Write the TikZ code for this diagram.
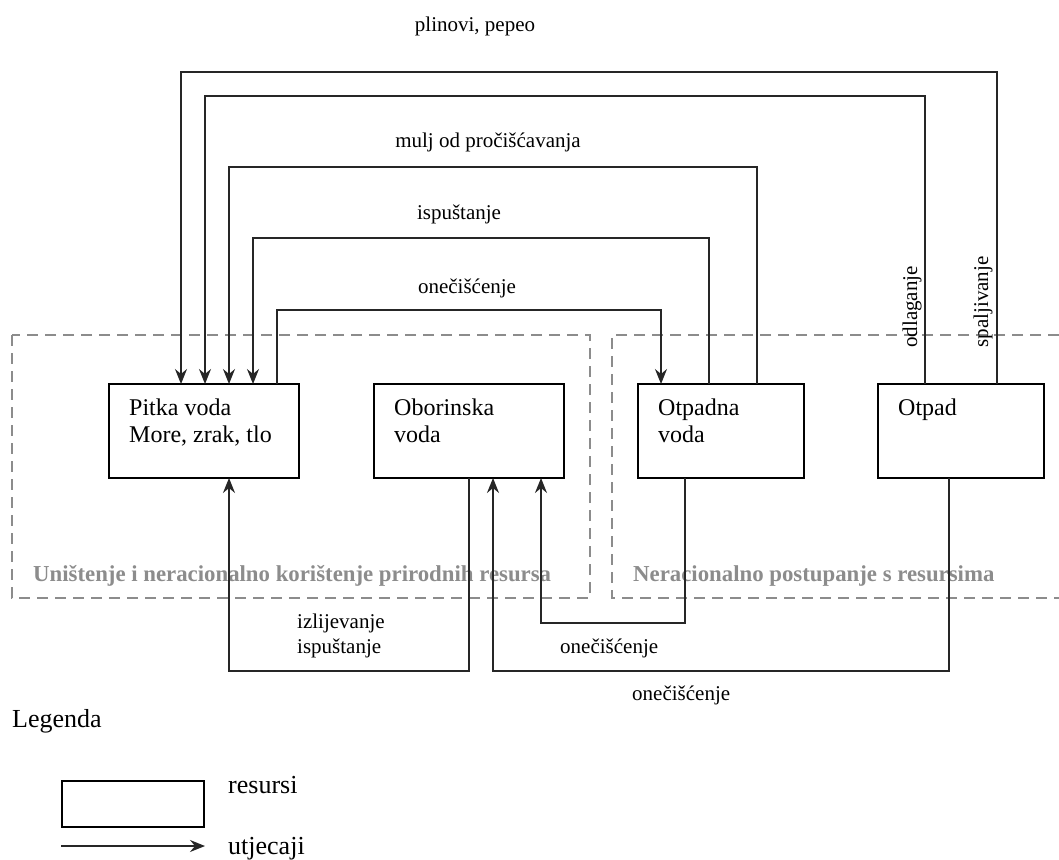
\documentclass[tikz,border=0pt]{standalone}
\usepackage{fontspec}
\setmainfont{Liberation Serif}
\usetikzlibrary{arrows.meta}

\tikzset{
  resurs/.style={draw, line width=2.4pt, inner sep=0pt, outer sep=0pt, anchor=north west, minimum height=94pt},
  boxtekst/.style={anchor=base west, align=left, inner sep=0pt, font=\fontsize{24}{27}\selectfont},
  utjecaj/.style={line width=1.4pt, draw=black!85, -{Stealth[length=15pt,width=12pt,inset=5pt]}},
  oznaka/.style={inner sep=0pt, font=\fontsize{21}{25}\selectfont},
  zona/.style={draw=black!45, line width=2.6pt, dash pattern=on 11pt off 7pt},
  zonatekst/.style={anchor=base west, inner sep=0pt, text=black!45, font=\fontsize{22.8}{26}\selectfont\bfseries},
  legtekst/.style={anchor=base west, inner sep=0pt, font=\fontsize{26}{30}\selectfont},
}

\begin{document}
\begin{tikzpicture}[x=1pt, y=-1pt]
        \fill[white] (0,0) rectangle (1059,859);
        \useasboundingbox (0,0) rectangle (1059,859);

        \draw[zona] (12,335) rectangle (590,598);
        \draw[zona] (1059,335) -- (612,335) -- (612,598) -- (1059,598);
        \node[zonatekst] (zona1) at (33,581) {Uništenje i neracionalno korištenje prirodnih resursa};
        \node[zonatekst] (zona2) at (633,581) {Neracionalno postupanje s resursima};

        \node[resurs, minimum width=190pt] (pitka) at (109,384) {};
        \node[resurs, minimum width=190pt] (oborinska) at (374,384) {};
        \node[resurs, minimum width=166pt] (otpadna) at (638,384) {};
        \node[resurs, minimum width=166pt] (otpad) at (878,384) {};
        \node[boxtekst] (pitkaT) at ([shift={(20pt,-58pt)}]pitka.north west) {Pitka voda\\More, zrak, tlo};
        \node[boxtekst] (oborinskaT) at ([shift={(20pt,-58pt)}]oborinska.north west) {Oborinska\\voda};
        \node[boxtekst] (otpadnaT) at ([shift={(20pt,-58pt)}]otpadna.north west) {Otpadna\\voda};
        \node[boxtekst] (otpadT) at ([shift={(20pt,-31pt)}]otpad.north west) {Otpad};

        \draw[utjecaj] ([xshift=119pt]otpad.north west) -- ++(0,-312) -| ([xshift=72pt]pitka.north west);
        \draw[utjecaj] ([xshift=47pt]otpad.north west) -- ++(0,-288) -| ([xshift=96pt]pitka.north west);
        \draw[utjecaj] ([xshift=119pt]otpadna.north west) -- ++(0,-217) -| ([xshift=120pt]pitka.north west);
        \draw[utjecaj] ([xshift=71pt]otpadna.north west) -- ++(0,-146) -| ([xshift=144pt]pitka.north west);
        \draw[utjecaj] ([xshift=168pt]pitka.north west) -- ++(0,-74) -| ([xshift=23pt]otpadna.north west);
        \draw[utjecaj] (oborinska.south) -- ++(0,193) -| ([xshift=120pt]pitka.south west);
        \draw[utjecaj] ([xshift=47pt]otpadna.south west) -- ++(0,145) -| ([xshift=167pt]oborinska.south west);
        \draw[utjecaj] ([xshift=71pt]otpad.south west) -- ++(0,193) -| ([xshift=119pt]oborinska.south west);

        \node[oznaka] (plinovi) at (475,26) {plinovi, pepeo};
        \node[oznaka] (mulj) at (488,142) {mulj od pročišćavanja};
        \node[oznaka] (ispustanje) at (459,214) {ispuštanje};
        \node[oznaka] (oneciscenje1) at (467,288) {onečišćenje};
        \node[oznaka, rotate=90] (odlaganje) at (912,307) {odlaganje};
        \node[oznaka, rotate=90] (spaljivanje) at (983,302) {spaljivanje};
        \node[oznaka, anchor=west, align=left] (izlijevanje) at (297,636) {izlijevanje\\ispuštanje};
        \node[oznaka, anchor=base west] (oneciscenje2) at (560,653) {onečišćenje};
        \node[oznaka, anchor=base west] (oneciscenje3) at (632,700) {onečišćenje};

        \node[legtekst] (legenda) at (12,727) {Legenda};
        \node[resurs, minimum width=142pt, minimum height=46pt] (legbox) at (62,781) {};
        \node[legtekst] (resursi) at (228,793) {resursi};
        \coordinate (legA) at (61,846);
        \coordinate (legB) at (205,846);
        \draw[utjecaj] (legA) -- (legB);
        \node[legtekst] (utjecaji) at (228,854) {utjecaji};
    \end{tikzpicture}
\end{document}
